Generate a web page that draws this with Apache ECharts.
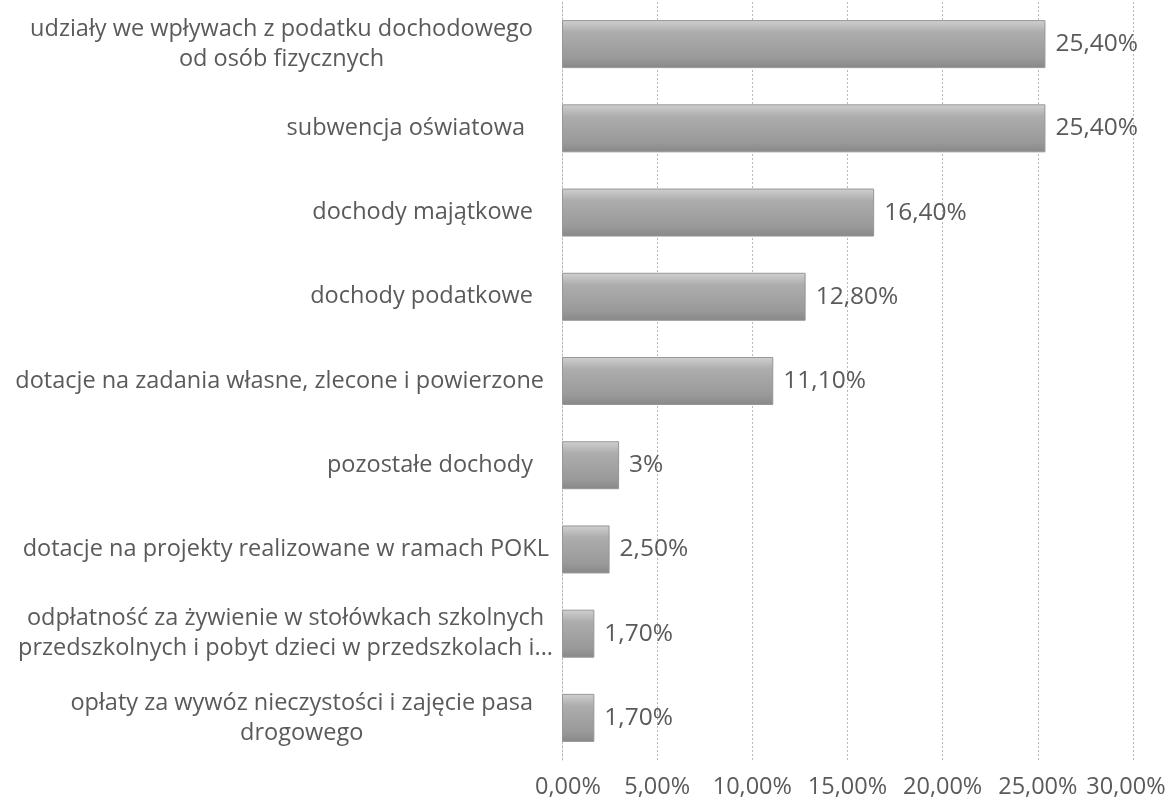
<!DOCTYPE html>
<html>
<head>
<meta charset="utf-8">
<script src="https://cdn.jsdelivr.net/npm/echarts@6/dist/echarts.min.js"></script>
<style>
html,body{margin:0;padding:0;background:#fff;}
#chart{width:1165px;height:805px;}
</style>
</head>
<body>
<div id="chart"></div>
<script>
// categories, top to bottom
const categories = [
  "udziały we wpływach z podatku dochodowego\nod osób fizycznych",
  "subwencja oświatowa",
  "dochody majątkowe",
  "dochody podatkowe",
  "dotacje na zadania własne, zlecone i powierzone",
  "pozostałe dochody",
  "dotacje na projekty realizowane w ramach POKL",
  "odpłatność za żywienie w stołówkach szkolnych\nprzedszkolnych i pobyt dzieci w przedszkolach i...",
  "opłaty za wywóz nieczystości i zajęcie pasa\ndrogowego"
];
const values = [25.4, 25.4, 16.4, 12.8, 11.1, 3, 2.5, 1.7, 1.7];
const valueLabels = ["25,40%", "25,40%", "16,40%", "12,80%", "11,10%", "3%", "2,50%", "1,70%", "1,70%"];
const tickLabels = {0: "0,00%", 5: "5,00%", 10: "10,00%", 15: "15,00%", 20: "20,00%", 25: "25,00%", 30: "30,00%"};

// styling: extra right padding of each category label (px)
const labelPad = [20, 28, 20, 20, 9, 20, 4, 0, 20];

const FONT = "Open Sans";
const FS = 23.5;
const FSN = 24.5;
const FST = 23.5;
const GRAY = "#5a5a5a";

const rich = {};
labelPad.forEach((p, i) => {
  rich['c' + i] = {align: 'center', color: GRAY, fontFamily: FONT, fontSize: FS, lineHeight: 30, padding: [0, p, 0, 0]};
});

const chart = echarts.init(document.getElementById('chart'), null, {renderer: 'canvas'});
chart.setOption({
  animation: false,
  backgroundColor: '#ffffff',
  grid: {left: 562, right: 32, top: 2, bottom: 45, containLabel: false, outerBoundsMode: 'none'},
  xAxis: {
    type: 'value', min: 0, max: 30, interval: 5,
    axisLine: {show: false}, axisTick: {show: false},
    splitLine: {show: true, lineStyle: {color: '#b8b8b8', type: [2, 2], width: 1}},
    axisLabel: {
      color: GRAY, fontFamily: FONT, fontSize: FST, margin: 15,
      formatter: v => {
        const t = tickLabels[v];
        if (t === undefined) return '';
        if (v === 0) return '{a|' + t + '}';
        if (v === 30) return '{b|' + t + '}';
        return t;
      },
      rich: {
        a: {color: GRAY, fontFamily: FONT, fontSize: FST, padding: [0, 0, 0, 12]},
        b: {color: GRAY, fontFamily: FONT, fontSize: FST, padding: [0, 14, 0, 0]}
      }
    }
  },
  yAxis: {
    type: 'category', inverse: true, data: categories,
    axisLine: {show: true, lineStyle: {color: '#b8b8b8', type: [2, 2]}},
    axisTick: {show: false},
    splitLine: {show: false},
    axisLabel: {
      margin: 9, align: 'right',
      formatter: (v, i) => v.split('\n').map(l => '{c' + i + '|' + l + '}').join('\n'),
      rich: rich
    }
  },
  series: [{
    type: 'bar',
    data: values,
    barCategoryGap: '43%',
    itemStyle: {
      color: new echarts.graphic.LinearGradient(0, 0, 0, 1, [
        {offset: 0, color: '#d0d0d0'},
        {offset: 0.25, color: '#adadad'},
        {offset: 0.8, color: '#999999'},
        {offset: 1, color: '#878787'}
      ]),
      borderColor: '#979797', borderWidth: 1
    },
    label: {
      show: true, position: 'right', distance: 10,
      color: GRAY, fontFamily: FONT, fontSize: FSN,
      formatter: p => valueLabels[p.dataIndex]
    }
  }]
});
</script>
</body>
</html>
